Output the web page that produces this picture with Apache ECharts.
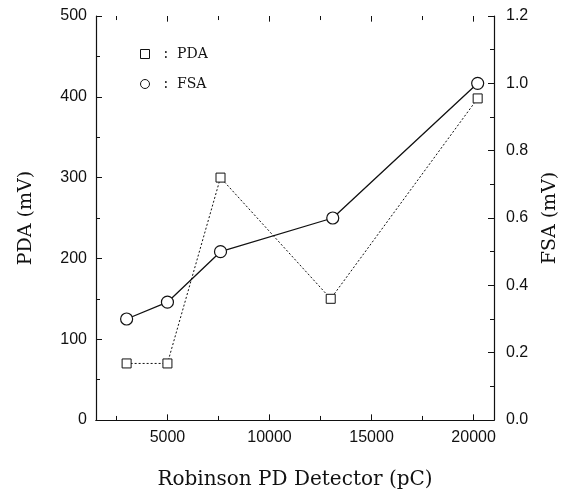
<!DOCTYPE html>
<html>
<head>
<meta charset="utf-8">
<script src="https://cdn.jsdelivr.net/npm/echarts@6/dist/echarts.min.js"></script>
<style>
  html, body { margin: 0; padding: 0; background: #fff; }
  #chart { width: 572px; height: 491px; }
</style>
</head>
<body>
<div id="chart"></div>
<script>
// values
var pdaX = [3000, 5000, 7600, 13000, 20200];
var pdaY = [70, 70, 300, 150, 398];
var fsaX = [3000, 5000, 7600, 13100, 20200];
var fsaY = [0.30, 0.35, 0.50, 0.60, 1.00];
var xLabels = [5000, 10000, 15000, 20000];
var xTicks = [2500, 5000, 7500, 10000, 12500, 15000, 17500, 20000];

function pairs(xs, ys) {
    var out = [];
    for (var i = 0; i < xs.length; i++) {
        out.push([xs[i], ys[i]]);
    }
    return out;
}

// x ticks point inward on the bottom and top frame (in PDA units)
function tickLines() {
    var out = [];
    for (var i = 0; i < xTicks.length; i++) {
        var len = (xTicks[i] % 5000 === 0) ? 7 : 5;
        out.push([{ coord: [xTicks[i], 0] }, { coord: [xTicks[i], len] }]);
        out.push([{ coord: [xTicks[i], 500] }, { coord: [xTicks[i], 500 - len] }]);
    }
    return out;
}

var labelFont = 'Liberation Sans';
var titleFont = 'DejaVu Serif';

var myChart = echarts.init(document.getElementById('chart'));

var option = {
    animation: false,
    backgroundColor: '#fff',
    grid: { left: 96, right: 78, top: 16, bottom: 71, outerBoundsMode: 'none' },
    legend: {
        orient: 'vertical',
        left: 135,
        top: 42,
        itemGap: 16,
        itemWidth: 9,
        itemHeight: 9,
        formatter: '  :  {name}',
        textStyle: { fontFamily: titleFont, fontSize: 14, color: '#111' },
        data: [
            { name: 'PDA', icon: 'rect' },
            { name: 'FSA', icon: 'circle' }
        ],
        itemStyle: { color: '#fff', borderColor: '#111', borderWidth: 1 }
    },
    xAxis: [{
        type: 'value',
        min: 1500,
        max: 21000,
        name: 'Robinson PD Detector (pC)',
        nameLocation: 'middle',
        nameGap: 50,
        nameTextStyle: { fontFamily: titleFont, fontSize: 20, color: '#111' },
        axisLine: { lineStyle: { color: '#111', width: 1.2 } },
        axisTick: { show: false },
        axisLabel: {
            customValues: xLabels, margin: 10, fontFamily: labelFont, fontSize: 16, color: '#111',
            formatter: function (v) { return String(v); }
        },
        splitLine: { show: false }
    }, {
        type: 'value',
        position: 'top',
        min: 1500,
        max: 21000,
        axisLine: { lineStyle: { color: '#111', width: 1.2 } },
        axisTick: { show: false },
        axisLabel: { show: false },
        splitLine: { show: false }
    }],
    yAxis: [{
        type: 'value',
        min: 0,
        max: 500,
        interval: 100,
        name: 'PDA (mV)',
        nameLocation: 'middle',
        nameRotate: 90,
        nameGap: 60,
        nameTextStyle: { fontFamily: titleFont, fontSize: 19, color: '#111' },
        axisLine: { show: true, lineStyle: { color: '#111', width: 1.2 } },
        axisTick: { inside: true, length: 6, lineStyle: { color: '#111' } },
        minorTick: { show: true, splitNumber: 2, length: 4, lineStyle: { color: '#111' } },
        axisLabel: { margin: 9, fontFamily: labelFont, fontSize: 16, color: '#111' },
        splitLine: { show: false }
    }, {
        type: 'value',
        position: 'right',
        min: 0,
        max: 1.2,
        interval: 0.2,
        name: 'FSA (mV)',
        nameLocation: 'middle',
        nameRotate: 90,
        nameGap: 47,
        nameTextStyle: { fontFamily: titleFont, fontSize: 19, color: '#111' },
        axisLine: { show: true, lineStyle: { color: '#111', width: 1.2 } },
        axisTick: { inside: true, length: 6, lineStyle: { color: '#111' } },
        minorTick: { show: true, splitNumber: 2, length: 4, lineStyle: { color: '#111' } },
        axisLabel: {
            margin: 12, fontFamily: labelFont, fontSize: 16, color: '#111',
            formatter: function (v) { return v.toFixed(1); }
        },
        splitLine: { show: false }
    }],
    series: [{
        name: 'PDA',
        type: 'line',
        xAxisIndex: 0,
        yAxisIndex: 0,
        data: pairs(pdaX, pdaY),
        symbol: 'rect',
        symbolSize: 9,
        lineStyle: { color: '#111', width: 1, type: [2, 2] },
        itemStyle: { color: '#fff', borderColor: '#111', borderWidth: 1 },
        markLine: {
            silent: true,
            symbol: 'none',
            label: { show: false },
            lineStyle: { color: '#111', width: 1, type: 'solid' },
            emphasis: { disabled: true },
            data: tickLines()
        }
    }, {
        name: 'FSA',
        type: 'line',
        xAxisIndex: 0,
        yAxisIndex: 1,
        data: pairs(fsaX, fsaY),
        symbol: 'circle',
        symbolSize: 12,
        lineStyle: { color: '#111', width: 1.3 },
        itemStyle: { color: '#fff', borderColor: '#111', borderWidth: 1.2 }
    }]
};

myChart.setOption(option);
</script>
</body>
</html>
